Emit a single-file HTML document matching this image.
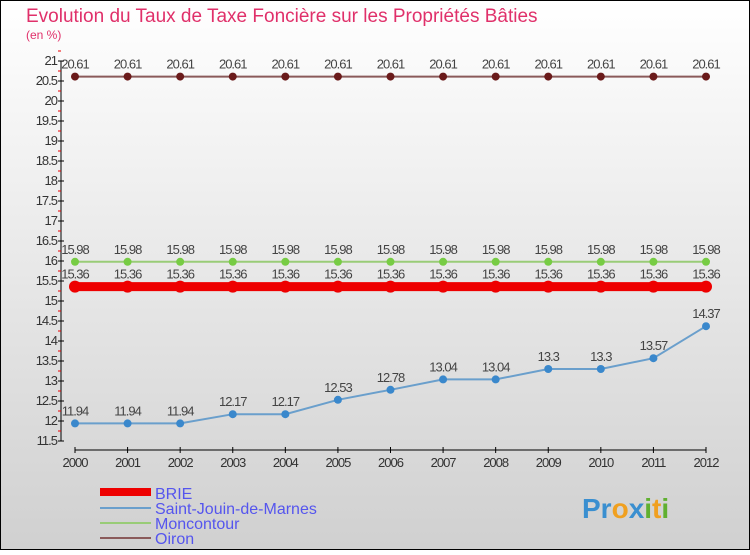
<!DOCTYPE html>
<html><head><meta charset="utf-8"><style>
body{margin:0}
svg text{font-family:"Liberation Sans",sans-serif}
</style></head><body>
<svg width="750" height="550" xmlns="http://www.w3.org/2000/svg">
<defs><linearGradient id="bg" x1="0" y1="0" x2="0" y2="1"><stop offset="0" stop-color="#ffffff"/><stop offset="1" stop-color="#d0d0d0"/></linearGradient></defs>
<rect x="0.5" y="0.5" width="749" height="549" fill="url(#bg)" stroke="#000"/>
<text x="26" y="22" font-size="19" fill="#e0306a">Evolution du Taux de Taxe Foncière sur les Propriétés Bâties</text>
<text x="26" y="39" font-size="12" fill="#e0306a">(en %)</text>
<g id="axes"></g>
<g id="series"></g>
<g>
<rect x="100" y="488" width="51" height="8" fill="#ee0000"/>
<text x="155" y="499" font-size="16" fill="#5555ee">BRIE</text>
<line x1="100" y1="508" x2="151" y2="508" stroke="#6a9fcc" stroke-width="2"/>
<text x="155" y="514" font-size="16" fill="#5555ee">Saint-Jouin-de-Marnes</text>
<line x1="100" y1="523" x2="151" y2="523" stroke="#99cc77" stroke-width="2"/>
<text x="155" y="529" font-size="16" fill="#5555ee">Moncontour</text>
<line x1="100" y1="538" x2="151" y2="538" stroke="#8a5a5a" stroke-width="2"/>
<text x="155" y="544" font-size="16" fill="#5555ee">Oiron</text>
</g>
<text x="582" y="518" font-size="28" font-weight="bold"><tspan fill="#3a8fd0">Pr</tspan><tspan fill="#f0a020">o</tspan><tspan fill="#3a8fd0">x</tspan><tspan fill="#60b030">i</tspan><tspan fill="#f0a020">t</tspan><tspan fill="#60b030">i</tspan></text>
</svg>
<script>
const years=[2000,2001,2002,2003,2004,2005,2006,2007,2008,2009,2010,2011,2012];
const brie=[15.36,15.36,15.36,15.36,15.36,15.36,15.36,15.36,15.36,15.36,15.36,15.36,15.36];
const saintJouin=[11.94,11.94,11.94,12.17,12.17,12.53,12.78,13.04,13.04,13.3,13.3,13.57,14.37];
const moncontour=[15.98,15.98,15.98,15.98,15.98,15.98,15.98,15.98,15.98,15.98,15.98,15.98,15.98];
const oiron=[20.61,20.61,20.61,20.61,20.61,20.61,20.61,20.61,20.61,20.61,20.61,20.61,20.61];
const yTicks=[11.5,12,12.5,13,13.5,14,14.5,15,15.5,16,16.5,17,17.5,18,18.5,19,19.5,20,20.5,21];
const NS="http://www.w3.org/2000/svg";
const X=i=>75+i*(706-75)/12;
const Y=v=>441-(v-11.5)*40;
function mk(tag,attrs,parent){const e=document.createElementNS(NS,tag);for(const k in attrs)e.setAttribute(k,attrs[k]);parent.appendChild(e);return e;}
const ax=document.getElementById('axes');
let l=mk('line',{x1:61,y1:Y(21),x2:61,y2:Y(11.5),stroke:'#000'},ax);


yTicks.forEach(v=>{
  const t=mk('line',{x1:58,y1:Y(v),x2:64,y2:Y(v),stroke:'#000'},ax);
  
  
  const m=mk('line',{x1:58,y1:Y(v+0.25),x2:61,y2:Y(v+0.25),stroke:'#e00'},ax);
  
  
  const tx=mk('text',{x:57,y:Y(v)+4,'font-size':13,'text-anchor':'end',fill:'#333','letter-spacing':'-1'},ax);
  tx.textContent=String(v);
  
  
});
l=mk('line',{x1:X(0),y1:450,x2:X(12),y2:450,stroke:'#000'},ax);


years.forEach((y,i)=>{
  const t=mk('line',{x1:X(i),y1:447,x2:X(i),y2:453,stroke:'#000'},ax);
  
  
  const tx=mk('text',{x:X(i),y:467,'font-size':13,'text-anchor':'middle',fill:'#333','letter-spacing':'-1'},ax);
  tx.textContent=String(y);
  
  
});
const sg=document.getElementById('series');
function series(name,data,color,dot,w,r){
  const g=mk('g',{},sg);
  
  
  const p=mk('polyline',{points:data.map((v,i)=>X(i)+','+Y(v)).join(' '),fill:'none',stroke:color,'stroke-width':w},g);
  
  
  data.forEach((v,i)=>{
    const c=mk('circle',{cx:X(i),cy:Y(v),r:r,fill:dot},g);
    
    
    const tx=mk('text',{x:X(i),y:Y(v)-8,'font-size':13,'text-anchor':'middle',fill:'#444','letter-spacing':'-1'},g);
    tx.textContent=String(v);
    
    
  });
}
series('oiron',oiron,'#8a5a5a','#6a1a1a',2,4);
series('moncontour',moncontour,'#99cc77','#77cc44',2,4);
series('brie',brie,'#ee0000','#ee0000',9,6);
series('saint-jouin',saintJouin,'#6a9fcc','#3a88cc',2,4);
</script>
</body></html>
